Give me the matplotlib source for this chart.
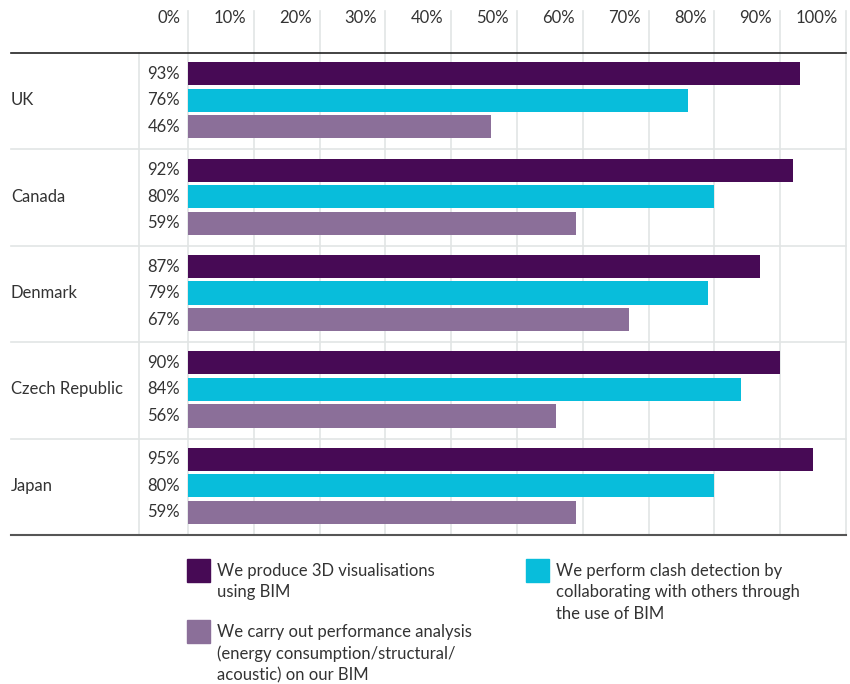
import matplotlib
matplotlib.use("Agg")
import matplotlib.pyplot as plt
import matplotlib.transforms as mtransforms
from matplotlib.patches import Rectangle

plt.rcParams['font.family'] = ['Lato', 'DejaVu Sans']

countries = ["UK", "Canada", "Denmark", "Czech Republic", "Japan"]
visualisation = [93, 92, 87, 90, 95]
clash = [76, 80, 79, 84, 80]
performance = [46, 59, 67, 56, 59]
series_labels = [
    "We produce 3D visualisations\nusing BIM",
    "We perform clash detection by\ncollaborating with others through\nthe use of BIM",
    "We carry out performance analysis\n(energy consumption/structural/\nacoustic) on our BIM",
]
colors = ["#470A55", "#08BDDB", "#8B6F99"]
ticks = list(range(0, 101, 10))
tick_labels = [f"{t}%" for t in ticks]

W, H = 850, 684
fig = plt.figure(figsize=(W / 100, H / 100), dpi=100)

def fx(px):
    return px / W

def fy(py):
    return 1 - py / H

ax_l, ax_r, ax_t, ax_b = 188, 846, 53, 535
ax = fig.add_axes([fx(ax_l), fy(ax_b), (ax_r - ax_l) / W, (ax_b - ax_t) / H])
ax.set_xlim(0, 100)
n = len(countries)
ax.set_ylim(n, 0)
ax.axis("off")

text_color = "#333333"
grid_color = "#E2E5E5"
fs = 12

# vertical gridlines extending up to the tick label area
top_ext = (ax_b - 11) / (ax_b - ax_t)
btrans = mtransforms.blended_transform_factory(ax.transData, ax.transAxes)
for t in ticks:
    ax.plot([t, t], [0, top_ext], transform=btrans, color=grid_color,
            lw=1.2, clip_on=False, zorder=0)

# column separator line
px_per_unit = (ax_r - ax_l) / 100
sep_x = (139 - ax_l) / px_per_unit
ax.plot([sep_x, sep_x], [0, n], color=grid_color, lw=1.2, clip_on=False, zorder=0)

left_x = (11 - ax_l) / px_per_unit
# horizontal separators
for i in range(1, n):
    ax.plot([left_x, 100], [i, i], color=grid_color, lw=1.2, clip_on=False, zorder=0)
ax.plot([left_x, 100], [0, 0], color="#222222", lw=1.2, clip_on=False, zorder=3)
ax.plot([left_x, 100], [n, n], color="#555555", lw=1.5, clip_on=False, zorder=3)

# tick labels at top
ttrans = mtransforms.blended_transform_factory(ax.transData, fig.transFigure)
for t, lab in zip(ticks, tick_labels):
    ax.text(t - 8 / px_per_unit, fy(18), lab, transform=ttrans, fontsize=fs,
            color=text_color, ha="right", va="center", clip_on=False)

offsets = [0.215, 0.49, 0.765]
bar_h = 0.24
series = [visualisation, clash, performance]
val_x = (180 - ax_l) / px_per_unit
for i, c in enumerate(countries):
    for s, (vals, col) in enumerate(zip(series, colors)):
        y = i + offsets[s]
        ax.barh(y, vals[i], height=bar_h, color=col, zorder=2)
        ax.text(val_x, y, f"{vals[i]}%", ha="right", va="center",
                fontsize=fs, color=text_color, clip_on=False)
    ax.text(left_x, i + offsets[1], c, ha="left", va="center",
            fontsize=fs, color=text_color, clip_on=False)

# legend
leg = [(187, 559, 0), (526, 559, 1), (187, 620, 2)]
for x0, y0, s in leg:
    fig.patches.append(Rectangle((fx(x0), fy(y0 + 23)), 23 / W, 23 / H,
                                 transform=fig.transFigure, color=colors[s]))
    fig.text(fx(x0 + 30), fy(y0 + 4), series_labels[s], ha="left", va="top",
             fontsize=fs, color=text_color, linespacing=1.42)

fig.savefig("out.png", dpi=100)
